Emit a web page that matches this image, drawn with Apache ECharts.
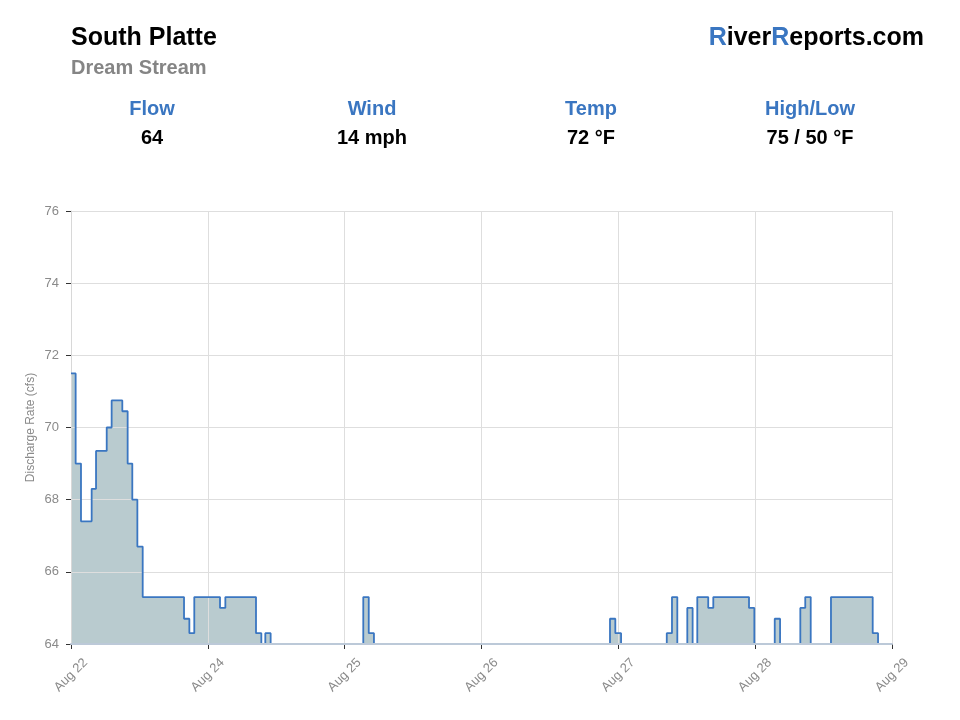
<!DOCTYPE html>
<html style="height: 100%">
<head>
    <meta charset="utf-8">
    <script src="https://cdn.jsdelivr.net/npm/echarts@6/dist/echarts.min.js"></script>
</head>
<body style="height: 100%; margin: 0; background: #fff">
<div id="flow_container" style="height: 720px; width: 960px"></div>
<script type="text/javascript">

    // header texts
    var riverName = 'South Platte';
    var sectionName = 'Dream Stream';
    var statLabels = ['Flow', 'Wind', 'Temp', 'High/Low'];
    var statValues = ['64', '14 mph', '72 °F', '75 / 50 °F'];

    // x axis: days since start, tick labels as shown
    var dayLabels = ['Aug 22', 'Aug 24', 'Aug 25', 'Aug 26', 'Aug 27', 'Aug 28', 'Aug 29'];

    // step changes: time (days from start) and discharge (cfs)
    var stepTimes = [0, 0.034, 0.073, 0.151, 0.183, 0.261, 0.297, 0.375, 0.414, 0.448,
        0.485, 0.524, 0.826, 0.865, 0.901, 1.089, 1.128, 1.352, 1.391, 1.420,
        1.459, 2.136, 2.176, 2.214, 3.939, 3.978, 4.020, 4.354, 4.392, 4.431,
        4.504, 4.543, 4.577, 4.657, 4.694, 4.955, 4.994, 5.143, 5.182, 5.330,
        5.366, 5.406, 5.554, 5.859, 5.898, 6.0];
    var stepValues = [71.5, 69.0, 67.4, 68.3, 69.35, 70.0, 70.75, 70.45, 69.0, 68.0,
        66.7, 65.3, 64.7, 64.3, 65.3, 65.0, 65.3, 64.3, 64.0, 64.3,
        64.0, 65.3, 64.3, 64.0, 64.7, 64.3, 64.0, 64.3, 65.3, 64.0,
        65.0, 64.0, 65.3, 65.0, 65.3, 65.0, 64.0, 64.7, 64.0, 65.0,
        65.3, 64.0, 65.3, 64.3, 64.0, 64.0];

    var fontStack = 'Arial, "Liberation Sans", Helvetica, sans-serif';
    var blue = '#3a76c1';
    var statCenters = [152, 372, 591, 810];

    var flow_data = [];
    for (var i = 0; i < stepTimes.length; i++) {
        flow_data.push([stepTimes[i], stepValues[i]]);
    }

    var header_graphic = [
        {
            type: 'text', left: 71, top: 26,
            style: {text: riverName, fontSize: 25, fontWeight: 'bold', fill: '#000', fontFamily: fontStack}
        },
        {
            type: 'text', left: 71, top: 58,
            style: {text: sectionName, fontSize: 20, fontWeight: 'bold', fill: '#858585', fontFamily: fontStack}
        },
        {
            type: 'text', right: 36, top: 26,
            style: {
                text: '{b|R}iver{b|R}eports.com',
                fontSize: 25, fontWeight: 'bold', fill: '#000', fontFamily: fontStack,
                rich: {b: {fontSize: 25, fontWeight: 'bold', fill: blue, fontFamily: fontStack}}
            }
        }
    ];
    for (var j = 0; j < statLabels.length; j++) {
        header_graphic.push({
            type: 'text', x: statCenters[j], y: 99,
            style: {
                text: statLabels[j], fontSize: 20, fontWeight: 'bold', fill: blue, fontFamily: fontStack,
                align: 'center', verticalAlign: 'top'
            }
        });
        header_graphic.push({
            type: 'text', x: statCenters[j], y: 128,
            style: {
                text: statValues[j], fontSize: 20, fontWeight: 'bold', fill: '#000', fontFamily: fontStack,
                align: 'center', verticalAlign: 'top'
            }
        });
    }

    var flow_option = {
        animation: false,
        backgroundColor: '#fff',
        textStyle: {fontFamily: fontStack},
        graphic: header_graphic,
        grid: {left: 71, right: 68, top: 211, bottom: 76, containLabel: false},
        xAxis: [
            {
                type: 'value',
                min: 0,
                max: 6,
                interval: 1,
                z: 3,
                axisLine: {show: true, lineStyle: {color: '#cccccc', width: 1}},
                axisTick: {show: true, length: 5, lineStyle: {color: '#333'}},
                splitLine: {show: true, lineStyle: {color: '#dedede'}},
                axisLabel: {
                    rotate: 45,
                    margin: 2,
                    verticalAlign: 'top',
                    padding: [14, 0, 0, 0],
                    color: '#8a8a8a',
                    fontSize: 13,
                    formatter: function (v) {
                        return dayLabels[Math.round(v)];
                    }
                }
            },
            {
                // baseline drawn over the series line
                type: 'value',
                min: 0,
                max: 6,
                position: 'bottom',
                z: 6,
                axisLine: {show: true, lineStyle: {color: '#bcc9d8', width: 2}},
                axisTick: {show: false},
                axisLabel: {show: false},
                splitLine: {show: false}
            }
        ],
        yAxis: {
            type: 'value',
            min: 64,
            max: 76,
            interval: 2,
            z: 3,
            name: 'Discharge Rate (cfs)',
            nameLocation: 'middle',
            nameGap: 34,
            nameMoveOverlap: false,
            nameTextStyle: {color: '#8a8a8a', fontSize: 12},
            axisLine: {show: true, lineStyle: {color: '#d8d8d8', width: 1}},
            axisTick: {show: true, length: 5, lineStyle: {color: '#333'}},
            splitLine: {show: true, lineStyle: {color: '#dedede'}},
            axisLabel: {color: '#8a8a8a', fontSize: 13, margin: 12}
        },
        series: [
            {
                name: 'Discharge area',
                type: 'line',
                step: 'end',
                symbol: 'none',
                z: 1,
                data: flow_data,
                lineStyle: {width: 0},
                areaStyle: {color: '#b9cbcf', opacity: 1, origin: 'start'}
            },
            {
                name: 'Discharge',
                type: 'line',
                step: 'end',
                symbol: 'none',
                z: 4,
                data: flow_data,
                lineStyle: {color: '#3a76c1', width: 1.8}
            }
        ]
    };

    var flow_container = document.getElementById('flow_container');
    var flow_chart = echarts.init(flow_container);
    flow_chart.setOption(flow_option, true);
</script>
</body>
</html>
